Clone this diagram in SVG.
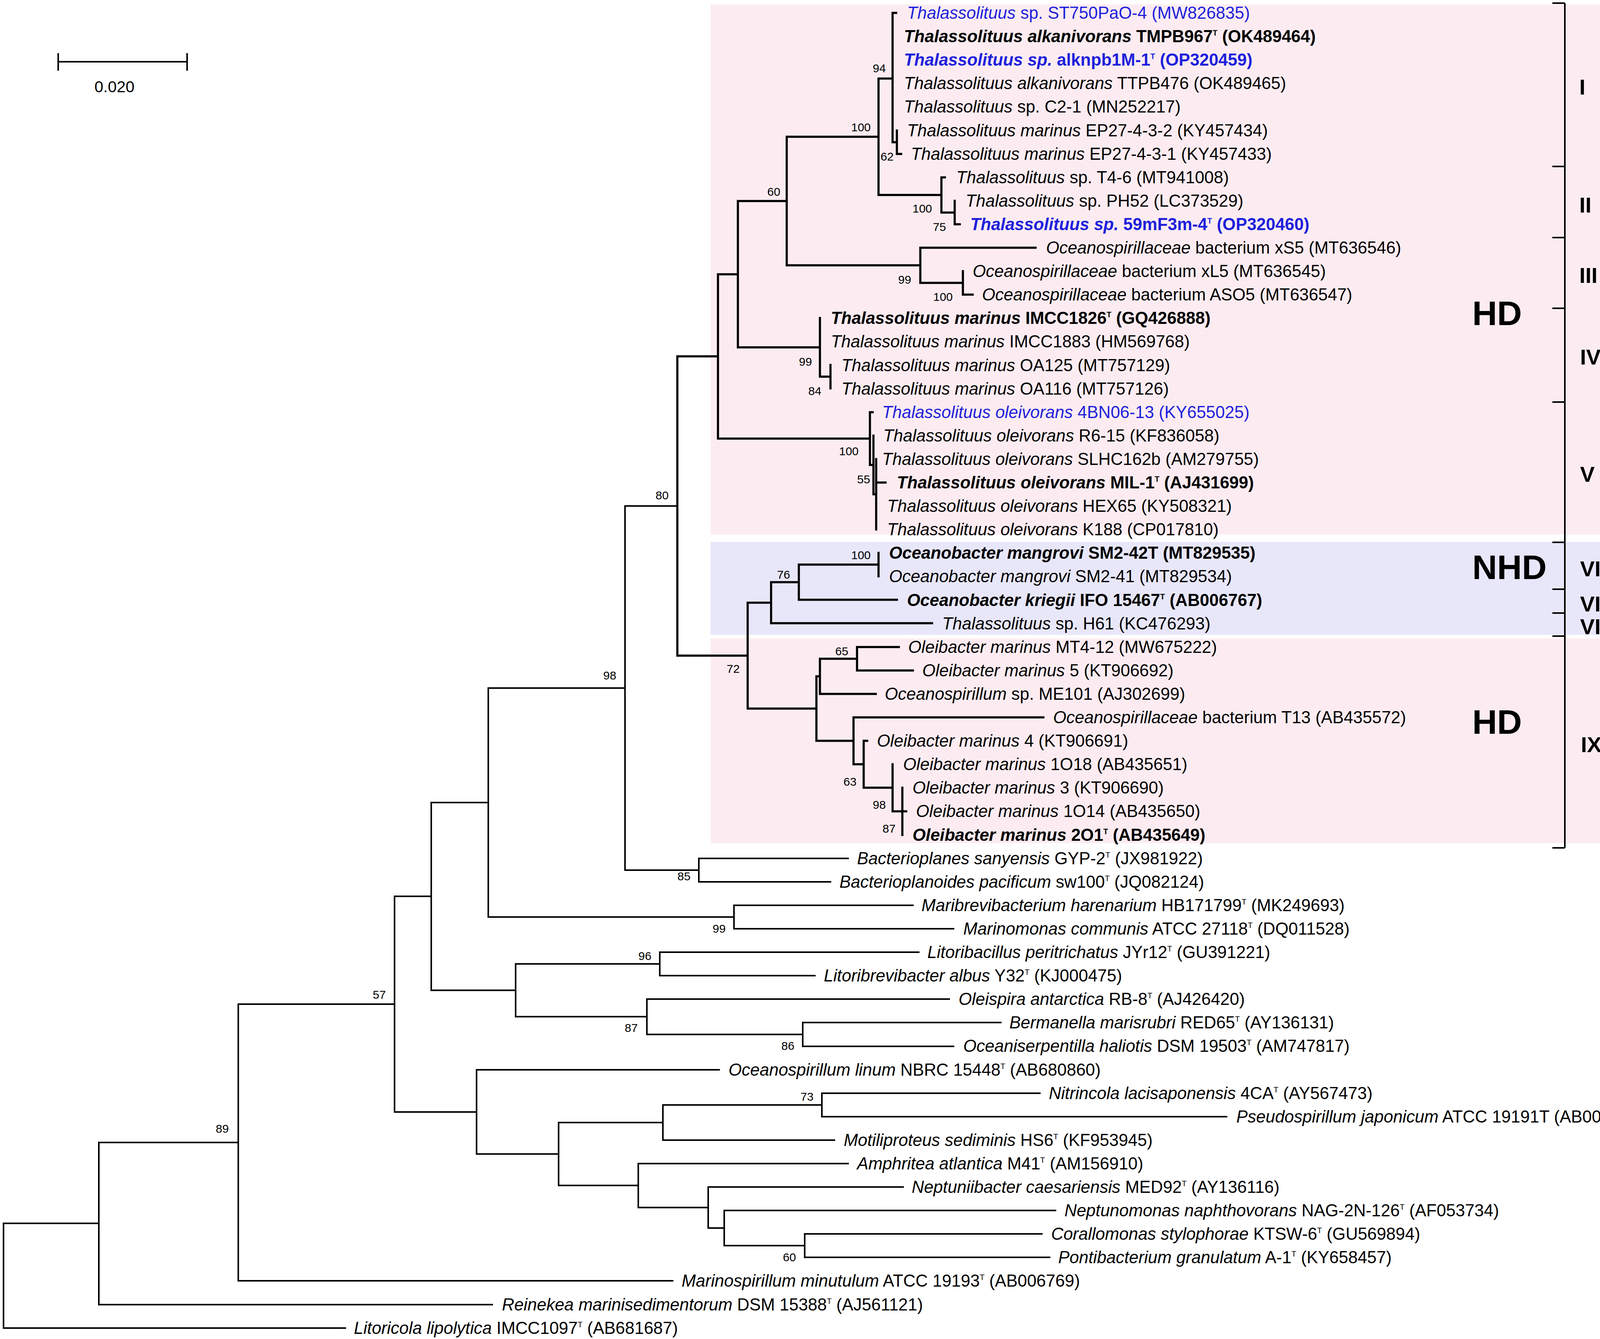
<svg xmlns="http://www.w3.org/2000/svg" width="4328" height="3427" viewBox="0 0 4328 3427">
<style>
text{font-family:"Liberation Sans",Arial,sans-serif;fill:#000}
.lf{font-size:43.5px}
.i{font-style:italic}
.bd{font-weight:bold}
.bl{fill:#1f1fdc}
.s{font-size:20px}
.bs{font-size:30px;text-anchor:middle}
.rn{font-size:56px;font-weight:bold}
.grp{font-size:88px;font-weight:bold}
.b1{fill:none;stroke:#000;stroke-width:5.5;stroke-linecap:square}
.b2{fill:none;stroke:#000;stroke-width:4;stroke-linecap:square}
.br{fill:none;stroke:#000;stroke-width:4}
</style>
<rect width="4328" height="3427" fill="#fff"/>
<g id="backgrounds">
<rect x="1819" y="11" width="2337" height="1357" fill="#fcecf1"/>
<rect x="1819" y="1387" width="2337" height="238" fill="#e8e7fa"/>
<rect x="1819" y="1634" width="2337" height="524" fill="#fcecf1"/>
</g>
<g id="scale-bar">
<path class="br" d="M149,158 H479 M149,136 V181 M479,136 V181"/>
<text x="293" y="236" style="font-size:41px;text-anchor:middle">0.020</text>
</g>
<g id="connectors">
<path class="b1" d="M2285,33 V364 M2285,33 H2294 M2285,364 H2296
M2296,334 V394 M2296,394 H2307
M2249,201 V499 M2249,201 H2285 M2249,499 H2410
M2410,454 V544 M2410,454 H2419 M2410,544 H2444
M2444,514 V574 M2444,574 H2457
M2014,350 V679 M2014,350 H2249 M2014,679 H2356
M2356,634 V724 M2356,634 H2651 M2356,724 H2465
M2465,694 V754 M2465,754 H2490
M1889,514.5 V889 M1889,514.5 H2014 M1889,889 H2099
M2099,814 V964 M2099,964 H2126
M2126,934 V994
M2227,1055 V1190 M2227,1055 H2234 M2227,1190 H2236
M2236,1115 V1265 M2236,1265 H2243
M2243,1175 V1355 M2243,1235 H2267
M1838,702 V1122.5 M1838,702 H1889 M1838,1122.5 H2227
M1734,912 V1678 M1734,912 H1838 M1734,1678 H1914
M1914,1542.5 V1813.5 M1914,1542.5 H1974 M1914,1813.5 H2090
M1974,1490 V1595 M1974,1490 H2045 M1974,1595 H2386
M2045,1445 V1535 M2045,1445 H2249 M2045,1535 H2296
M2249,1415 V1475
M2090,1731 V1896 M2090,1731 H2099 M2090,1896 H2185
M2099,1686 V1776 M2099,1686 H2194 M2099,1776 H2242
M2194,1656 V1716 M2194,1656 H2301 M2194,1716 H2337
M2185,1836 V1956 M2185,1836 H2671 M2185,1956 H2211
M2211,1896 V2016 M2211,1896 H2220 M2211,2016 H2285
M2285,1956 V2076.5 M2285,2076.5 H2310
M2310,2016 V2137 M2310,2076.5 H2320"/>
<path class="b2" d="M1600,1295 V2227 M1600,1295 H1734 M1600,2227 H1789
M1789,2197 V2257 M1789,2197 H2171 M1789,2257 H2126
M1250,1761 V2347 M1250,1761 H1600 M1250,2347 H1879
M1879,2317 V2377 M1879,2317 H2337 M1879,2377 H2441
M1104,2054 V2534.5 M1104,2054 H1250 M1104,2534.5 H1320
M1320,2467 V2602 M1320,2467 H1689 M1320,2602 H1656
M1689,2437 V2497 M1689,2437 H2352 M1689,2497 H2086
M1656,2557 V2647.5 M1656,2557 H2430 M1656,2647.5 H2055
M2055,2617 V2678 M2055,2617 H2562 M2055,2678 H2441
M1010,2294 V2846 M1010,2294 H1104 M1010,2846 H1220
M1220,2738 V2953.5 M1220,2738 H1841 M1220,2953.5 H1430
M1430,2873 V3034 M1430,2873 H1697 M1430,3034 H1634
M1697,2828 V2918 M1697,2828 H2104 M1697,2918 H2136
M2104,2798 V2858 M2104,2798 H2662 M2104,2858 H3140
M1634,2978 V3090.5 M1634,2978 H2171 M1634,3090.5 H1813
M1813,3038 V3143 M1813,3038 H2312 M1813,3143 H1854
M1854,3098 V3188 M1854,3098 H2702 M1854,3188 H2060
M2060,3158 V3218 M2060,3158 H2667 M2060,3218 H2687
M610,2570 V3278 M610,2570 H1010 M610,3278 H1722
M253,2924 V3339 M253,2924 H610 M253,3339 H1260
M9,3131 V3399 M9,3131 H253 M9,3399 H884"/>
</g>
<g id="bootstrap">
<text class="bs" x="2251" y="185">94</text>
<text class="bs" x="2204" y="336">100</text>
<text class="bs" x="2271" y="411">62</text>
<text class="bs" x="1981" y="501">60</text>
<text class="bs" x="2361" y="544">100</text>
<text class="bs" x="2405" y="591">75</text>
<text class="bs" x="2316" y="726">99</text>
<text class="bs" x="2414" y="770">100</text>
<text class="bs" x="2062" y="936">99</text>
<text class="bs" x="2086" y="1011">84</text>
<text class="bs" x="2173" y="1165">100</text>
<text class="bs" x="2211" y="1237">55</text>
<text class="bs" x="1695" y="1278">80</text>
<text class="bs" x="1561" y="1739">98</text>
<text class="bs" x="2204" y="1431">100</text>
<text class="bs" x="2006" y="1481">76</text>
<text class="bs" x="1877" y="1722">72</text>
<text class="bs" x="2155" y="1677">65</text>
<text class="bs" x="2176" y="2011">63</text>
<text class="bs" x="2251" y="2070">98</text>
<text class="bs" x="2276" y="2131">87</text>
<text class="bs" x="1751" y="2253">85</text>
<text class="bs" x="1841" y="2387">99</text>
<text class="bs" x="1651" y="2457">96</text>
<text class="bs" x="1616" y="2641">87</text>
<text class="bs" x="2017" y="2687">86</text>
<text class="bs" x="971" y="2556">57</text>
<text class="bs" x="569" y="2899">89</text>
<text class="bs" x="2066" y="2817">73</text>
<text class="bs" x="2021" y="3228">60</text>
</g>
<g id="leaf-1"><text class="lf bl" x="2322" y="48"><tspan class="i">Thalassolituus</tspan> sp. ST750PaO-4 (MW826835)</text></g>
<g id="leaf-2"><text class="lf bd" x="2314" y="108"><tspan class="i">Thalassolituus alkanivorans</tspan> TMPB967<tspan class="s" dy="-17">T</tspan><tspan dy="17"> (OK489464)</tspan></text></g>
<g id="leaf-3"><text class="lf bd bl" x="2314" y="168"><tspan class="i">Thalassolituus sp.</tspan> alknpb1M-1<tspan class="s" dy="-17">T</tspan><tspan dy="17"> (OP320459)</tspan></text></g>
<g id="leaf-4"><text class="lf" x="2314" y="228"><tspan class="i">Thalassolituus alkanivorans</tspan> TTPB476 (OK489465)</text></g>
<g id="leaf-5"><text class="lf" x="2314" y="288"><tspan class="i">Thalassolituus</tspan> sp. C2-1 (MN252217)</text></g>
<g id="leaf-6"><text class="lf" x="2322" y="349"><tspan class="i">Thalassolituus marinus</tspan> EP27-4-3-2 (KY457434)</text></g>
<g id="leaf-7"><text class="lf" x="2332" y="409"><tspan class="i">Thalassolituus marinus</tspan> EP27-4-3-1 (KY457433)</text></g>
<g id="leaf-8"><text class="lf" x="2448" y="469"><tspan class="i">Thalassolituus</tspan> sp. T4-6 (MT941008)</text></g>
<g id="leaf-9"><text class="lf" x="2472" y="529"><tspan class="i">Thalassolituus</tspan> sp. PH52 (LC373529)</text></g>
<g id="leaf-10"><text class="lf bd bl" x="2484" y="589"><tspan class="i">Thalassolituus sp.</tspan> 59mF3m-4<tspan class="s" dy="-17">T</tspan><tspan dy="17"> (OP320460)</tspan></text></g>
<g id="leaf-11"><text class="lf" x="2678" y="649"><tspan class="i">Oceanospirillaceae</tspan> bacterium xS5 (MT636546)</text></g>
<g id="leaf-12"><text class="lf" x="2490" y="709"><tspan class="i">Oceanospirillaceae</tspan> bacterium xL5 (MT636545)</text></g>
<g id="leaf-13"><text class="lf" x="2514" y="769"><tspan class="i">Oceanospirillaceae</tspan> bacterium ASO5 (MT636547)</text></g>
<g id="leaf-14"><text class="lf bd" x="2127" y="829"><tspan class="i">Thalassolituus marinus</tspan> IMCC1826<tspan class="s" dy="-17">T</tspan><tspan dy="17"> (GQ426888)</tspan></text></g>
<g id="leaf-15"><text class="lf" x="2127" y="889"><tspan class="i">Thalassolituus marinus</tspan> IMCC1883 (HM569768)</text></g>
<g id="leaf-16"><text class="lf" x="2154" y="950"><tspan class="i">Thalassolituus marinus</tspan> OA125 (MT757129)</text></g>
<g id="leaf-17"><text class="lf" x="2154" y="1010"><tspan class="i">Thalassolituus marinus</tspan> OA116 (MT757126)</text></g>
<g id="leaf-18"><text class="lf bl" x="2258" y="1070"><tspan class="i">Thalassolituus oleivorans</tspan> 4BN06-13 (KY655025)</text></g>
<g id="leaf-19"><text class="lf" x="2261" y="1130"><tspan class="i">Thalassolituus oleivorans</tspan> R6-15 (KF836058)</text></g>
<g id="leaf-20"><text class="lf" x="2258" y="1190"><tspan class="i">Thalassolituus oleivorans</tspan> SLHC162b (AM279755)</text></g>
<g id="leaf-21"><text class="lf bd" x="2296" y="1250"><tspan class="i">Thalassolituus oleivorans</tspan> MIL-1<tspan class="s" dy="-17">T</tspan><tspan dy="17"> (AJ431699)</tspan></text></g>
<g id="leaf-22"><text class="lf" x="2271" y="1310"><tspan class="i">Thalassolituus oleivorans</tspan> HEX65 (KY508321)</text></g>
<g id="leaf-23"><text class="lf" x="2271" y="1370"><tspan class="i">Thalassolituus oleivorans</tspan> K188 (CP017810)</text></g>
<g id="leaf-24"><text class="lf bd" x="2276" y="1430"><tspan class="i">Oceanobacter mangrovi</tspan> SM2-42T (MT829535)</text></g>
<g id="leaf-25"><text class="lf" x="2276" y="1490"><tspan class="i">Oceanobacter mangrovi</tspan> SM2-41 (MT829534)</text></g>
<g id="leaf-26"><text class="lf bd" x="2322" y="1551"><tspan class="i">Oceanobacter kriegii</tspan> IFO 15467<tspan class="s" dy="-17">T</tspan><tspan dy="17"> (AB006767)</tspan></text></g>
<g id="leaf-27"><text class="lf" x="2412" y="1611"><tspan class="i">Thalassolituus</tspan> sp. H61 (KC476293)</text></g>
<g id="leaf-28"><text class="lf" x="2325" y="1671"><tspan class="i">Oleibacter marinus</tspan> MT4-12 (MW675222)</text></g>
<g id="leaf-29"><text class="lf" x="2361" y="1731"><tspan class="i">Oleibacter marinus</tspan> 5 (KT906692)</text></g>
<g id="leaf-30"><text class="lf" x="2265" y="1791"><tspan class="i">Oceanospirillum</tspan> sp. ME101 (AJ302699)</text></g>
<g id="leaf-31"><text class="lf" x="2696" y="1851"><tspan class="i">Oceanospirillaceae</tspan> bacterium T13 (AB435572)</text></g>
<g id="leaf-32"><text class="lf" x="2245" y="1911"><tspan class="i">Oleibacter marinus</tspan> 4 (KT906691)</text></g>
<g id="leaf-33"><text class="lf" x="2312" y="1971"><tspan class="i">Oleibacter marinus</tspan> 1O18 (AB435651)</text></g>
<g id="leaf-34"><text class="lf" x="2336" y="2031"><tspan class="i">Oleibacter marinus</tspan> 3 (KT906690)</text></g>
<g id="leaf-35"><text class="lf" x="2345" y="2091"><tspan class="i">Oleibacter marinus</tspan> 1O14 (AB435650)</text></g>
<g id="leaf-36"><text class="lf bd" x="2336" y="2152"><tspan class="i">Oleibacter marinus</tspan> 2O1<tspan class="s" dy="-17">T</tspan><tspan dy="17"> (AB435649)</tspan></text></g>
<g id="leaf-37"><text class="lf" x="2194" y="2212"><tspan class="i">Bacterioplanes sanyensis</tspan> GYP-2<tspan class="s" dy="-17">T</tspan><tspan dy="17"> (JX981922)</tspan></text></g>
<g id="leaf-38"><text class="lf" x="2149" y="2272"><tspan class="i">Bacterioplanoides pacificum</tspan> sw100<tspan class="s" dy="-17">T</tspan><tspan dy="17"> (JQ082124)</tspan></text></g>
<g id="leaf-39"><text class="lf" x="2359" y="2332"><tspan class="i">Maribrevibacterium harenarium</tspan> HB171799<tspan class="s" dy="-17">T</tspan><tspan dy="17"> (MK249693)</tspan></text></g>
<g id="leaf-40"><text class="lf" x="2466" y="2392"><tspan class="i">Marinomonas communis</tspan> ATCC 27118<tspan class="s" dy="-17">T</tspan><tspan dy="17"> (DQ011528)</tspan></text></g>
<g id="leaf-41"><text class="lf" x="2374" y="2452"><tspan class="i">Litoribacillus peritrichatus</tspan> JYr12<tspan class="s" dy="-17">T</tspan><tspan dy="17"> (GU391221)</tspan></text></g>
<g id="leaf-42"><text class="lf" x="2109" y="2512"><tspan class="i">Litoribrevibacter albus</tspan> Y32<tspan class="s" dy="-17">T</tspan><tspan dy="17"> (KJ000475)</tspan></text></g>
<g id="leaf-43"><text class="lf" x="2454" y="2572"><tspan class="i">Oleispira antarctica</tspan> RB-8<tspan class="s" dy="-17">T</tspan><tspan dy="17"> (AJ426420)</tspan></text></g>
<g id="leaf-44"><text class="lf" x="2584" y="2632"><tspan class="i">Bermanella marisrubri</tspan> RED65<tspan class="s" dy="-17">T</tspan><tspan dy="17"> (AY136131)</tspan></text></g>
<g id="leaf-45"><text class="lf" x="2466" y="2692"><tspan class="i">Oceaniserpentilla haliotis</tspan> DSM 19503<tspan class="s" dy="-17">T</tspan><tspan dy="17"> (AM747817)</tspan></text></g>
<g id="leaf-46"><text class="lf" x="1865" y="2753"><tspan class="i">Oceanospirillum linum</tspan> NBRC 15448<tspan class="s" dy="-17">T</tspan><tspan dy="17"> (AB680860)</tspan></text></g>
<g id="leaf-47"><text class="lf" x="2685" y="2813"><tspan class="i">Nitrincola lacisaponensis</tspan> 4CA<tspan class="s" dy="-17">T</tspan><tspan dy="17"> (AY567473)</tspan></text></g>
<g id="leaf-48"><text class="lf" x="3165" y="2873"><tspan class="i">Pseudospirillum japonicum</tspan> ATCC 19191T (AB006766)</text></g>
<g id="leaf-49"><text class="lf" x="2160" y="2933"><tspan class="i">Motiliproteus sediminis</tspan> HS6<tspan class="s" dy="-17">T</tspan><tspan dy="17"> (KF953945)</tspan></text></g>
<g id="leaf-50"><text class="lf" x="2194" y="2993"><tspan class="i">Amphritea atlantica</tspan> M41<tspan class="s" dy="-17">T</tspan><tspan dy="17"> (AM156910)</tspan></text></g>
<g id="leaf-51"><text class="lf" x="2334" y="3053"><tspan class="i">Neptuniibacter caesariensis</tspan> MED92<tspan class="s" dy="-17">T</tspan><tspan dy="17"> (AY136116)</tspan></text></g>
<g id="leaf-52"><text class="lf" x="2725" y="3113"><tspan class="i">Neptunomonas naphthovorans</tspan> NAG-2N-126<tspan class="s" dy="-17">T</tspan><tspan dy="17"> (AF053734)</tspan></text></g>
<g id="leaf-53"><text class="lf" x="2691" y="3173"><tspan class="i">Corallomonas stylophorae</tspan> KTSW-6<tspan class="s" dy="-17">T</tspan><tspan dy="17"> (GU569894)</tspan></text></g>
<g id="leaf-54"><text class="lf" x="2709" y="3233"><tspan class="i">Pontibacterium granulatum</tspan> A-1<tspan class="s" dy="-17">T</tspan><tspan dy="17"> (KY658457)</tspan></text></g>
<g id="leaf-55"><text class="lf" x="1745" y="3293"><tspan class="i">Marinospirillum minutulum</tspan> ATCC 19193<tspan class="s" dy="-17">T</tspan><tspan dy="17"> (AB006769)</tspan></text></g>
<g id="leaf-56"><text class="lf" x="1285" y="3354"><tspan class="i">Reinekea marinisedimentorum</tspan> DSM 15388<tspan class="s" dy="-17">T</tspan><tspan dy="17"> (AJ561121)</tspan></text></g>
<g id="leaf-57"><text class="lf" x="906" y="3414"><tspan class="i">Litoricola lipolytica</tspan> IMCC1097<tspan class="s" dy="-17">T</tspan><tspan dy="17"> (AB681687)</tspan></text></g>
<g id="group-labels">
<text class="grp" x="3769" y="832">HD</text>
<text class="grp" x="3769" y="1482">NHD</text>
<text class="grp" x="3769" y="1878">HD</text>
</g>
<g id="clade-brackets">
<path class="br" d="M4006,8 V2170 M3974,8 H4006 M3974,426 H4006 M3974,608 H4006 M3974,789 H4006 M3974,1029 H4006 M3974,1388 H4006 M3974,1508 H4006 M3974,1569 H4006 M3974,1628 H4006 M3974,2170 H4006"/>
<text class="rn" x="4043" y="242">I</text>
<text class="rn" x="4043" y="544">II</text>
<text class="rn" x="4043" y="724">III</text>
<text class="rn" x="4045" y="933">IV</text>
<text class="rn" x="4045" y="1233">V</text>
<text class="rn" x="4045" y="1475">VI</text>
<text class="rn" x="4045" y="1565">VII</text>
<text class="rn" x="4045" y="1623">VIII</text>
<text class="rn" x="4047" y="1925">IX</text>
</g>
<g id="orb-bracket">
<path class="br" d="M4215,8 V2170 M4175,8 H4215 M4175,2170 H4215"/>
<text transform="translate(4240,1057) rotate(90)" style="font-size:112px;font-weight:bold;text-anchor:middle" textLength="1566" lengthAdjust="spacingAndGlyphs"><tspan class="i">Oceanobacter</tspan>-related bacteria (ORB)</text>
</g>
</svg>
